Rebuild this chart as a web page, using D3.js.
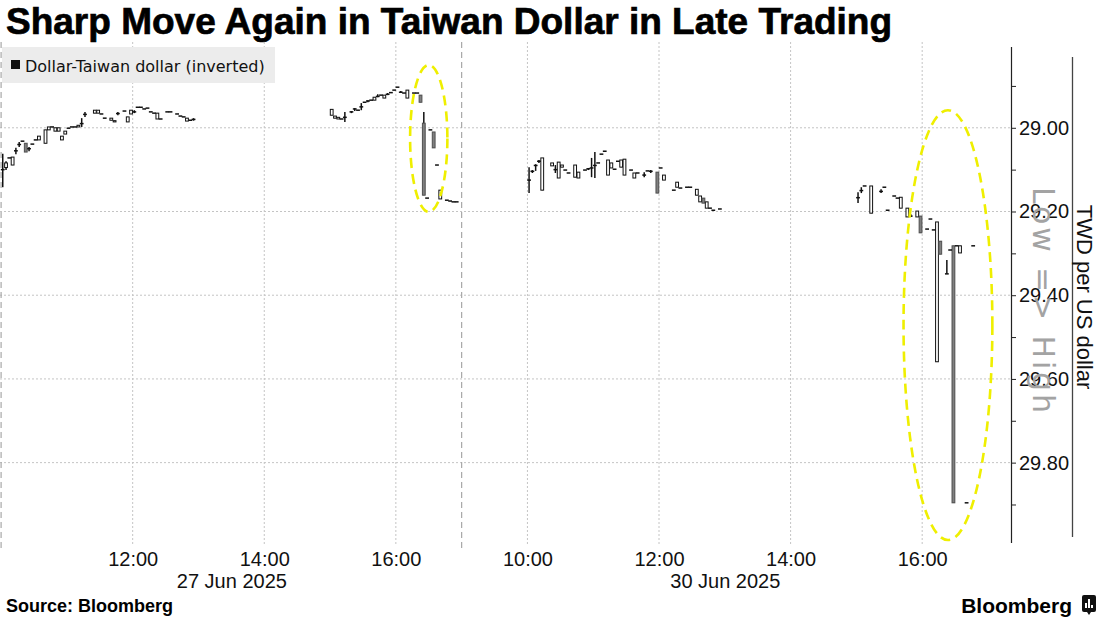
<!DOCTYPE html>
<html><head><meta charset="utf-8">
<script src="https://cdn.jsdelivr.net/npm/d3@7"></script>
<style>
body{margin:0;background:#fff;}
svg{display:block;}
</style></head><body>
<svg id="chart" width="1100" height="619"></svg>
<script>
// ---------- text ----------
const titleText = "Sharp Move Again in Taiwan Dollar in Late Trading";
const legendLabel = "Dollar-Taiwan dollar (inverted)";
const yAxisTitle = "TWD per US dollar";
const invertNote = "Low => High";
const sourceText = "Source: Bloomberg";
const brandText = "Bloomberg";

// ---------- sessions (trading days shown back to back) ----------
const sessionDays = ["27 Jun 2025", "30 Jun 2025"];
const sessionOpen = ["10:00", "09:00"];
const sessionClose = ["17:00", "17:00"];
const xDomainStart = ["27 Jun 2025", "09:59"];
const xDomainEnd = ["30 Jun 2025", "17:21"];

// ---------- axis ticks ----------
const xTickDays = ["27 Jun 2025","27 Jun 2025","27 Jun 2025","30 Jun 2025","30 Jun 2025","30 Jun 2025","30 Jun 2025"];
const xTickTimes = ["12:00","14:00","16:00","10:00","12:00","14:00","16:00"];
const yDomain = [28.807, 29.992];
const yMinorTicks = [28.9,29.0,29.1,29.2,29.3,29.4,29.5,29.6,29.7,29.8,29.9];
const yLabelTicks = [29.0,29.2,29.4,29.6,29.8];

// ---------- 3-minute candles: [open, high, low, close], null = no trade ----------
const candleStepMin = 3;
const jun27Morning = [
 [29.100,29.142,29.062,29.100],[29.095,29.101,29.080,29.084],[29.072,29.072,29.072,29.072],[29.089,29.089,29.070,29.070],
 [29.055,29.063,29.048,29.055],[29.040,29.046,29.034,29.040],[29.032,29.032,29.032,29.032],[29.037,29.058,29.037,29.058],
 [29.050,29.056,29.046,29.050],[29.039,29.039,29.039,29.039],[29.029,29.029,29.029,29.029],[29.029,29.029,29.020,29.020],
 null,[29.037,29.037,29.005,29.005],[29.005,29.005,28.998,28.998],[28.998,28.998,28.998,28.998],
 [29.008,29.008,29.000,29.000],[29.008,29.008,29.000,29.000],[29.029,29.029,29.020,29.020],[29.015,29.015,29.008,29.008],
 [29.001,29.001,29.001,29.001],[28.998,28.998,28.998,28.998],[28.998,28.998,28.998,28.998],[28.998,28.998,28.994,28.994],
 [28.990,28.998,28.977,28.990],[28.968,28.974,28.962,28.968],null,null,
 [28.965,28.965,28.958,28.958],[28.965,28.965,28.958,28.958],[28.967,28.967,28.967,28.967],[28.977,28.977,28.977,28.977],
 null,[28.982,28.982,28.977,28.977],[28.986,28.986,28.983,28.983],[28.966,28.970,28.962,28.966],
 null,[28.960,28.960,28.960,28.960],[28.986,28.986,28.974,28.974],[28.967,28.967,28.958,28.958],
 [28.962,28.965,28.958,28.962],[28.951,28.951,28.951,28.951],[28.951,28.951,28.951,28.951],[28.955,28.955,28.955,28.955],
 [28.953,28.953,28.953,28.953],[28.962,28.962,28.962,28.962],[28.965,28.965,28.965,28.965],[28.979,28.979,28.965,28.965],
 [28.979,28.979,28.979,28.979],null,[28.962,28.962,28.962,28.962],[28.962,28.962,28.962,28.962],
 null,[28.967,28.967,28.967,28.967],[28.972,28.972,28.972,28.972],[28.974,28.974,28.974,28.974],
 [28.984,28.984,28.977,28.977],[28.982,28.982,28.982,28.982],[28.980,28.983,28.977,28.980]
];
const jun27Afternoon = [
 [28.970,28.970,28.956,28.956],[28.977,28.977,28.972,28.972],[28.979,28.979,28.975,28.975],[28.979,28.979,28.979,28.979],
 [28.975,28.986,28.962,28.975],null,[28.962,28.965,28.960,28.962],[28.955,28.960,28.953,28.955],
 [28.958,28.958,28.958,28.958],[28.950,28.958,28.941,28.950],[28.939,28.939,28.939,28.939],[28.936,28.939,28.934,28.936],
 [28.934,28.934,28.934,28.934],[28.934,28.934,28.927,28.927],[28.925,28.927,28.920,28.925],[28.922,28.922,28.922,28.922],
 [28.929,28.929,28.922,28.922],[28.920,28.922,28.917,28.920],[28.916,28.917,28.915,28.916],[28.910,28.910,28.910,28.910],
 [28.903,28.903,28.903,28.903],[28.915,28.917,28.912,28.915],[28.917,28.917,28.917,28.917],[28.929,28.929,28.910,28.910],
 null,[28.917,28.917,28.917,28.917],[28.917,28.917,28.917,28.917],[28.922,28.939,28.922,28.939],
 [28.989,29.161,28.962,29.161],[29.168,29.168,29.168,29.168],[29.005,29.005,29.005,29.005],[29.010,29.048,29.010,29.048],
 [29.089,29.089,29.089,29.089],[29.170,29.170,29.149,29.149],null,[29.173,29.173,29.173,29.173],
 [29.175,29.175,29.175,29.175],[29.177,29.177,29.177,29.177],[29.177,29.177,29.177,29.177]
];
const jun30Morning = [
 [29.125,29.156,29.094,29.125],[29.104,29.108,29.101,29.104],[29.090,29.103,29.087,29.090],[29.080,29.084,29.077,29.080],
 [29.149,29.149,29.072,29.072],null,null,[29.091,29.091,29.084,29.084],
 [29.100,29.108,29.089,29.100],[29.120,29.120,29.082,29.082],[29.094,29.094,29.089,29.089],[29.101,29.101,29.101,29.101],
 [29.108,29.108,29.108,29.108],null,[29.118,29.118,29.089,29.089],[29.120,29.120,29.106,29.106],
 null,[29.101,29.101,29.101,29.101],[29.098,29.101,29.096,29.098],[29.096,29.118,29.072,29.096],
 [29.090,29.120,29.058,29.090],[29.084,29.084,29.084,29.084],[29.063,29.063,29.063,29.063],[29.056,29.056,29.056,29.056],
 [29.113,29.113,29.077,29.077],[29.096,29.096,29.084,29.084],[29.099,29.099,29.099,29.099],[29.080,29.080,29.080,29.080],
 [29.094,29.094,29.077,29.077],[29.113,29.113,29.075,29.075],null,[29.101,29.101,29.101,29.101],
 [29.120,29.120,29.108,29.108],[29.108,29.108,29.108,29.108],null,[29.113,29.118,29.106,29.113],
 [29.103,29.103,29.103,29.103],[29.104,29.108,29.101,29.104],null,[29.106,29.156,29.106,29.156],
 [29.096,29.096,29.096,29.096],[29.125,29.125,29.113,29.113],null,null,
 [29.149,29.149,29.149,29.149],[29.142,29.142,29.130,29.130],[29.144,29.144,29.144,29.144],null,
 [29.142,29.142,29.142,29.142],[29.142,29.142,29.142,29.142],null,[29.161,29.161,29.147,29.147],
 [29.177,29.177,29.163,29.163],[29.168,29.180,29.168,29.180],[29.192,29.192,29.177,29.177],[29.192,29.192,29.192,29.192],
 [29.197,29.197,29.197,29.197],null,[29.194,29.194,29.194,29.194]
];
const jun30Afternoon = [
 [29.167,29.180,29.154,29.167],[29.150,29.156,29.142,29.150],[29.139,29.139,29.139,29.139],null,
 [29.204,29.204,29.139,29.139],null,null,[29.152,29.156,29.147,29.152],
 [29.142,29.142,29.142,29.142],[29.197,29.197,29.197,29.197],null,[29.163,29.163,29.163,29.163],
 [29.168,29.168,29.168,29.168],[29.192,29.192,29.166,29.166],null,[29.213,29.213,29.192,29.192],
 [29.211,29.213,29.206,29.211],null,[29.213,29.213,29.199,29.199],[29.211,29.251,29.211,29.251],
 null,[29.242,29.242,29.242,29.242],[29.218,29.218,29.218,29.218],[29.244,29.244,29.244,29.244],
 [29.559,29.559,29.225,29.225],[29.271,29.302,29.271,29.302],null,[29.349,29.349,29.316,29.349],
 [29.292,29.292,29.292,29.292],[29.282,29.896,29.282,29.896],[29.282,29.282,29.282,29.282],[29.299,29.299,29.282,29.282],
 null,[29.896,29.896,29.896,29.896],null,[29.282,29.282,29.282,29.282]
];
const blockDays = ["27 Jun 2025","27 Jun 2025","30 Jun 2025","30 Jun 2025"];
const blockStarts = ["10:00","15:00","10:00","15:00"];
const blockCandles = [jun27Morning, jun27Afternoon, jun30Morning, jun30Afternoon];

// highlighted windows (annotation ellipses): day, from, to, low value, high value
const highlightDays = ["27 Jun 2025","30 Jun 2025"];
const highlightFrom = ["16:13","15:43"];
const highlightTo = ["16:47","17:04"];
const highlightLow = [28.850, 28.958];
const highlightHigh = [29.201, 29.985];

// ---------- trading-time mapping ----------
function hm(s){const [h,m]=s.split(":").map(Number);return h*60+m;}
function tradingMinute(day, time){
  let off=0;
  for(let i=0;i<sessionDays.length;i++){
    if(sessionDays[i]===day) return off + hm(time) - hm(sessionOpen[i]);
    off += hm(sessionClose[i]) - hm(sessionOpen[i]);
  }
  return NaN;
}

const svg = d3.select("#chart");
const plot = {left:0, right:1011, top:47, bottom:543};
const x = d3.scaleLinear()
  .domain([tradingMinute(...xDomainStart), tradingMinute(...xDomainEnd)])
  .range([plot.left, plot.right]);
const y = d3.scaleLinear().domain(yDomain).range([plot.top, plot.bottom]);

// ---------- title ----------
svg.append("text").attr("x",6).attr("y",34)
  .attr("font-family","Liberation Sans, Arial, sans-serif").attr("font-weight","bold")
  .attr("font-size",37).attr("fill","#000").attr("stroke","#000").attr("stroke-width",0.7)
  .text(titleText);

// ---------- gridlines ----------
const grid = svg.append("g");
grid.selectAll("line.h").data(yLabelTicks).join("line")
  .attr("x1",plot.left).attr("x2",plot.right)
  .attr("y1",d=>y(d)).attr("y2",d=>y(d))
  .attr("stroke","#c4c4c4").attr("stroke-width",1).attr("stroke-dasharray","2,2");
const xTickU = xTickTimes.map((t,i)=>tradingMinute(xTickDays[i],t));
grid.selectAll("line.v").data(xTickU).join("line")
  .attr("x1",d=>x(d)).attr("x2",d=>x(d))
  .attr("y1",42).attr("y2",545)
  .attr("stroke","#c4c4c4").attr("stroke-width",1).attr("stroke-dasharray","2,2");
// session separators
const sepU = sessionDays.map((d,i)=>tradingMinute(d, sessionOpen[i]));
grid.selectAll("line.s").data(sepU).join("line")
  .attr("x1",d=>Math.max(0.5,x(d))).attr("x2",d=>Math.max(0.5,x(d)))
  .attr("y1",42).attr("y2",548)
  .attr("stroke","#a8a8a8").attr("stroke-width",1.2).attr("stroke-dasharray","6,4");

// ---------- legend ----------
svg.append("rect").attr("x",2).attr("y",47).attr("width",273).attr("height",36).attr("fill","#ececec");
svg.append("rect").attr("x",11).attr("y",60).attr("width",9).attr("height",9).attr("fill","#111");
svg.append("text").attr("x",25).attr("y",72)
  .attr("font-family","DejaVu Sans, sans-serif").attr("font-size",16).attr("fill","#111")
  .text(legendLabel);

// ---------- candles ----------
const candles = [];
blockCandles.forEach((arr,bi)=>{
  const startU = tradingMinute(blockDays[bi], blockStarts[bi]);
  arr.forEach((c,k)=>{
    if(!c) return;
    candles.push({u:startU + (k+0.5)*candleStepMin, o:c[0], h:c[1], l:c[2], c:c[3]});
  });
});
const slotPx = x(candleStepMin) - x(0);
const bw = slotPx*0.85;
const cg = svg.append("g");
// wicks
cg.selectAll("line.wick").data(candles.filter(d=>d.h>d.l)).join("line")
  .attr("x1",d=>x(d.u)).attr("x2",d=>x(d.u))
  .attr("y1",d=>y(d.l)).attr("y2",d=>y(d.h))
  .attr("stroke","#111").attr("stroke-width",1.5);
// bodies
cg.selectAll("rect.body").data(candles.filter(d=>d.o!==d.c)).join("rect")
  .attr("x",d=>x(d.u)-bw/2).attr("width",bw)
  .attr("y",d=>y(Math.min(d.o,d.c))).attr("height",d=>Math.max(1,y(Math.max(d.o,d.c))-y(Math.min(d.o,d.c))))
  .attr("fill",d=>d.c<d.o?"#fff":"#808080")
  .attr("stroke",d=>d.c<d.o?"#111":"#505050").attr("stroke-width",1);
// flat candles
cg.selectAll("line.flat").data(candles.filter(d=>d.o===d.c)).join("line")
  .attr("x1",d=>x(d.u)-bw/2-0.5).attr("x2",d=>x(d.u)+bw/2+0.5)
  .attr("y1",d=>y(d.c)).attr("y2",d=>y(d.c))
  .attr("stroke","#111").attr("stroke-width",1.5);

// ---------- highlight ellipses ----------
svg.append("g").selectAll("ellipse").data(highlightDays.map((d,i)=>({
    x0:x(tradingMinute(d,highlightFrom[i])), x1:x(tradingMinute(d,highlightTo[i])),
    y0:y(highlightLow[i]), y1:y(highlightHigh[i])})))
  .join("ellipse")
  .attr("cx",d=>(d.x0+d.x1)/2).attr("cy",d=>(d.y0+d.y1)/2)
  .attr("rx",d=>(d.x1-d.x0)/2).attr("ry",d=>(d.y1-d.y0)/2)
  .attr("fill","none").attr("stroke","#efef00").attr("stroke-width",2.6).attr("stroke-dasharray","10,6");

// ---------- right axis ----------
const yAxis = d3.axisRight(y).tickValues(yMinorTicks).tickSize(5).tickPadding(3)
  .tickFormat(d=> yLabelTicks.some(v=>Math.abs(v-d)<1e-9) ? d.toFixed(2) : "");
const ya = svg.append("g").attr("transform",`translate(${plot.right},0)`).call(yAxis);
ya.select(".domain").remove();
ya.selectAll(".tick line").attr("stroke","#222");
ya.selectAll(".tick text").attr("font-family","Liberation Sans, Arial, sans-serif").attr("font-size",20).attr("fill","#111");
svg.append("line").attr("x1",plot.right+0.5).attr("x2",plot.right+0.5).attr("y1",plot.top).attr("y2",plot.bottom)
  .attr("stroke","#222").attr("stroke-width",1.2);

// inversion note
svg.append("text").attr("transform","translate(1033,300) rotate(90)")
  .attr("text-anchor","middle").attr("font-family","DejaVu Sans, sans-serif")
  .attr("font-size",30).attr("fill","#a3a3a3").attr("textLength",226).attr("lengthAdjust","spacing")
  .text(invertNote);
// axis title
svg.append("line").attr("x1",1072.5).attr("x2",1072.5).attr("y1",57).attr("y2",537)
  .attr("stroke","#444").attr("stroke-width",1.3);
svg.append("text").attr("transform","translate(1077,297) rotate(90)")
  .attr("text-anchor","middle").attr("font-family","Liberation Sans, Arial, sans-serif")
  .attr("font-size",22).attr("fill","#111").text(yAxisTitle);

// ---------- bottom axis ----------
const xAxis = d3.axisBottom(x).tickValues(xTickU).tickSize(0).tickPadding(9)
  .tickFormat((d,i)=>xTickTimes[i]);
const xa = svg.append("g").attr("transform",`translate(0,${plot.bottom})`).call(xAxis);
xa.select(".domain").remove();
xa.selectAll(".tick text").attr("font-family","Liberation Sans, Arial, sans-serif").attr("font-size",20).attr("fill","#111");
const dayMid = sessionDays.map((d,i)=>(tradingMinute(d,sessionOpen[i])+tradingMinute(d,sessionClose[i]))/2);
const dAxis = d3.axisBottom(x).tickValues(dayMid).tickSize(0).tickPadding(31)
  .tickFormat((d,i)=>sessionDays[i]);
const da = svg.append("g").attr("transform",`translate(0,${plot.bottom})`).call(dAxis);
da.select(".domain").remove();
da.selectAll(".tick text").attr("font-family","Liberation Sans, Arial, sans-serif").attr("font-size",20).attr("fill","#111");

// ---------- footer ----------
svg.append("text").attr("x",6).attr("y",612)
  .attr("font-family","Liberation Sans, Arial, sans-serif").attr("font-weight","bold")
  .attr("font-size",18).attr("fill","#000").text(sourceText);
svg.append("text").attr("x",1072).attr("y",613).attr("text-anchor","end")
  .attr("font-family","Liberation Sans, Arial, sans-serif").attr("font-weight","bold")
  .attr("font-size",21).attr("fill","#000").text(brandText);
const logo = svg.append("g").attr("transform","translate(1082,595)");
logo.append("rect").attr("width",14).attr("height",17).attr("rx",2).attr("fill","#111");
logo.append("path").attr("d","M5,17 L7,20 L9,17 Z").attr("fill","#111");
[[3,8,2],[6,4,2],[9,10,2]].forEach(b=>logo.append("rect").attr("x",b[0]).attr("y",b[1]).attr("width",b[2]).attr("height",13-b[1]).attr("fill","#fff"));
</script>
</body></html>
